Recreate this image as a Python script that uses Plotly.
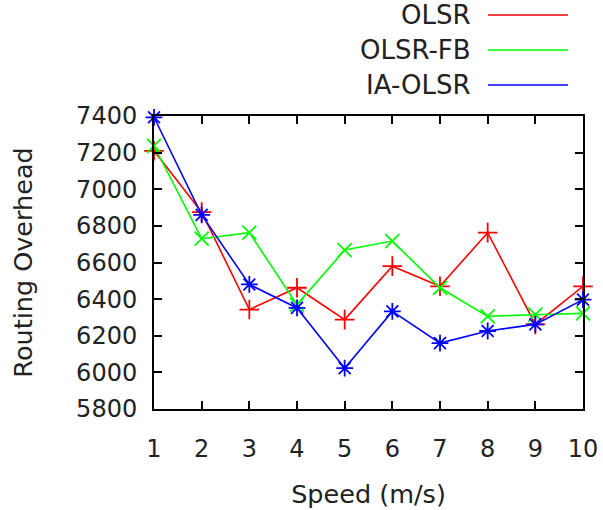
import plotly.graph_objects as go

speed = [1, 2, 3, 4, 5, 6, 7, 8, 9, 10]
olsr = [7210, 6875, 6343, 6462, 6288, 6580, 6470, 6763, 6262, 6470]
olsr_fb = [7237, 6730, 6763, 6370, 6668, 6717, 6462, 6306, 6315, 6322]
ia_olsr = [7393, 6860, 6480, 6352, 6023, 6333, 6160, 6226, 6262, 6397]
y_ticks = [5800, 6000, 6200, 6400, 6600, 6800, 7000, 7200, 7400]
series_names = ["OLSR", "OLSR-FB", "IA-OLSR"]

colors = ["#ff0000", "#00ff00", "#0000ff"]
symbols = ["cross-thin", "x-thin", "asterisk"]
font = "DejaVu Sans"
fs_tick = 24
fs_title = 25.5
fs_leg = 26
txt = "#222222"

fig = go.Figure()
for name, ys, c, s in zip(series_names, [olsr, olsr_fb, ia_olsr], colors, symbols):
    fig.add_trace(go.Scatter(
        x=speed, y=ys, name=name, mode="lines+markers",
        line=dict(color=c, width=1.6),
        marker=dict(symbol=s, size=14, color=c, line=dict(color=c, width=1.8)),
        cliponaxis=False, showlegend=False,
    ))

# manual gnuplot-style legend (text left of sample)
rows = [1.3447, 1.2253, 1.1058]
x0, xm, x1 = 0.7786, 0.8718, 0.965
for name, c, s, ry in zip(series_names, colors, symbols, rows):
    fig.add_annotation(x=0.7436, y=ry, xref="paper", yref="paper", text=name,
                       showarrow=False, xanchor="right", yanchor="middle",
                       font=dict(family=font, size=fs_leg, color=txt))
    fig.add_shape(type="line", xref="paper", yref="paper", x0=x0, x1=x1, y0=ry, y1=ry,
                  line=dict(color=c, width=1.6))
    fig.add_trace(go.Scatter(x=[xm], y=[ry], xaxis="x2", yaxis="y2", mode="markers",
                             marker=dict(symbol=s, size=14, color=c, line=dict(color=c, width=1.8)),
                             cliponaxis=False, showlegend=False, hoverinfo="skip"))

axis_common = dict(
    showline=True, linecolor="#000000", linewidth=2, mirror="allticks",
    ticks="inside", ticklen=8, tickwidth=1.5, tickcolor="#000000",
    showgrid=False, zeroline=False, automargin=False,
    tickfont=dict(family=font, size=fs_tick, color=txt),
)

fig.update_layout(
    width=603, height=510,
    margin=dict(l=154, r=20, t=116, b=101),
    paper_bgcolor="white", plot_bgcolor="white",
    xaxis=dict(range=[1, 10], tickvals=speed, ticklabelstandoff=17,
               title=dict(text="Speed (m/s)", font=dict(family=font, size=fs_title, color=txt), standoff=23),
               **axis_common),
    yaxis=dict(range=[5800, 7400], tickvals=y_ticks, ticklabelstandoff=10,
               title=dict(text="Routing Overhead", font=dict(family=font, size=fs_title, color=txt), standoff=36),
               **axis_common),
    xaxis2=dict(range=[0, 1], overlaying="x", visible=False, domain=[0, 1]),
    yaxis2=dict(range=[0, 1], overlaying="y", visible=False, domain=[0, 1]),
)

fig.write_html("out.html", config={"displayModeBar": False},
               post_script="document.body.style.margin='0px';")
